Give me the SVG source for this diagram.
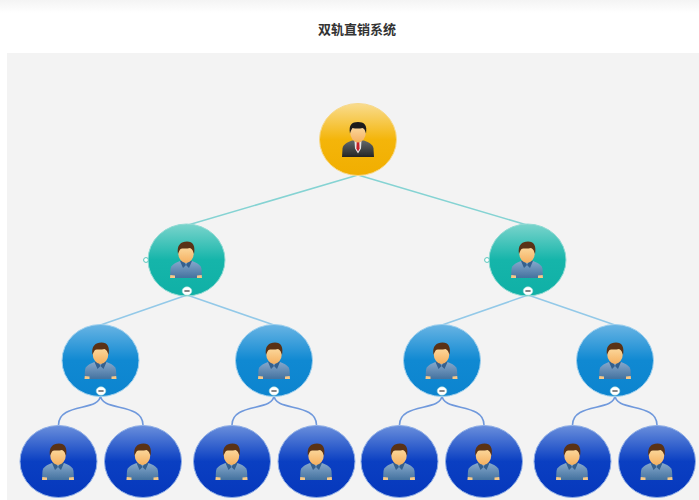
<svg xmlns="http://www.w3.org/2000/svg" width="699" height="500" viewBox="0 0 699 500">
<style>
.title{font-family:"Noto Sans CJK SC","Liberation Sans",sans-serif;font-size:13px;font-weight:700;fill:#333;text-anchor:middle}
.n1{fill:url(#g1);stroke:#f7d98c;stroke-width:1}
.n2{fill:url(#g2);stroke:#8fdad3;stroke-width:1}
.n3{fill:url(#g3);stroke:#9fd0ee;stroke-width:1}
.n4{fill:url(#g4);stroke:#8faee6;stroke-width:1}
.c1{fill:none;stroke:#85d3d3;stroke-width:1.6}
.c2{fill:none;stroke:#93c9e8;stroke-width:1.6}
.c3{fill:none;stroke:#7099dc;stroke-width:1.6}
.t{fill:#fff;stroke:#a8dcdc;stroke-width:.6}
.m{stroke:#444;stroke-width:1.3}
.o{fill:#fff;stroke:#55c5bb;stroke-width:1}
</style>
<defs>
<linearGradient id="strip" x1="0" y1="0" x2="0" y2="1"><stop offset="0" stop-color="#f4f4f4"/><stop offset="1" stop-color="#fff"/></linearGradient>
<linearGradient id="g1" x1="0" y1="0" x2="0" y2="1"><stop offset="0" stop-color="#f9dc8e"/><stop offset=".5" stop-color="#f4b50a"/><stop offset="1" stop-color="#f1ae00"/></linearGradient>
<linearGradient id="g2" x1="0" y1="0" x2="0" y2="1"><stop offset="0" stop-color="#7ad4cc"/><stop offset=".5" stop-color="#15b5aa"/><stop offset="1" stop-color="#10b0a6"/></linearGradient>
<linearGradient id="g3" x1="0" y1="0" x2="0" y2="1"><stop offset="0" stop-color="#68b4e4"/><stop offset=".5" stop-color="#1089d2"/><stop offset="1" stop-color="#0c84cf"/></linearGradient>
<linearGradient id="g4" x1="0" y1="0" x2="0" y2="1"><stop offset="0" stop-color="#6a8fdc"/><stop offset=".5" stop-color="#0a3fc2"/><stop offset="1" stop-color="#0638bc"/></linearGradient>
<linearGradient id="shirt" x1="0" y1="0" x2="0" y2="1"><stop offset="0" stop-color="#86a8cc"/><stop offset="1" stop-color="#44729f"/></linearGradient>
<linearGradient id="face" x1="0" y1="0" x2="0" y2="1"><stop offset="0" stop-color="#fde2ac"/><stop offset="1" stop-color="#f5b060"/></linearGradient>
<linearGradient id="suit" x1="0" y1="0" x2="0" y2="1"><stop offset="0" stop-color="#62676a"/><stop offset="1" stop-color="#262626"/></linearGradient>
<filter id="soft" x="-10%" y="-10%" width="120%" height="120%"><feGaussianBlur stdDeviation=".5"/></filter>
<g id="casual" filter="url(#soft)">
<path d="M-16 18 L-15.500 9 C-15 5 -11 3 -6 1 L6 1 C11 3 15 5 15.500 9 L16 18 Z" fill="url(#shirt)"/>
<path d="M-16 18 L-15.700 15 L-11 15.500 L-11 18 Z M16 18 L15.700 15 L11 15.500 L11 18 Z" fill="#f6c888"/>
<path d="M-6 1 L-3 8 L0 5 L3 8 L6 1 L3 0 L0 5 L-3 0 Z" fill="#35608e"/>
<ellipse cx="0" cy="-7" rx="7.800" ry="10" fill="url(#face)"/>
<path d="M-8 -6 C-9.500 -15 -5 -18.500 1 -18.500 C7 -18.500 9.500 -14 8 -6 C7 -9 6.500 -11 4 -12 C1 -11 -4 -12 -5.500 -11 C-6.500 -10 -7.300 -8 -8 -6 Z" fill="#5a3216"/>
</g>
<g id="suited" filter="url(#soft)">
<path d="M-16 17.500 L-15.500 9 C-15 5 -11 3 -6 1 L6 1 C11 3 15 5 15.500 9 L16 17.500 Z" fill="url(#suit)"/>
<path d="M-3.500 1 L0 3 L3.500 1 L3 9 L0 14 L-3 9 Z" fill="#e8e8e8"/>
<path d="M-1.300 2.500 L1.300 2.500 L1.600 9 L0 12 L-1.600 9 Z" fill="#c8202a"/>
<ellipse cx="0" cy="-7" rx="7.800" ry="10" fill="url(#face)"/>
<path d="M-8 -6 C-9.500 -15 -6 -17.500 0 -17.500 C6 -17.500 9.500 -15 8 -6 C7 -9 6.500 -11 4.500 -11.500 C1 -10.500 -3 -11 -5.500 -11.500 C-6.500 -10 -7.500 -8 -8 -6 Z" fill="#1c1c1c"/>
</g>
<g id="btn"><ellipse rx="4.800" ry="4.200" class="t"/><line x1="-2.600" x2="2.600" class="m"/></g>
</defs>

<rect width="699" height="500" fill="#fff"/>
<rect width="699" height="13" fill="url(#strip)"/>
<rect x="7" y="53" width="692" height="447" fill="#f3f3f3"/>
<text x="357" y="34" class="title">双轨直销系统</text>

<g id="connectors">
<path class="c1" d="M358 175 L188 225 M358 175 L527 225"/>
<path class="c2" d="M187 295 L100.500 325 M187 295 L274 325 M528 295 L442 325 M528 295 L615 325"/>
<path class="c3" d="M100.500 395 C100.500 412 58.500 402 58.500 425 M100.500 395 C100.500 412 143 402 143 425"/>
<path class="c3" d="M274 395 C274 412 232 402 232 425 M274 395 C274 412 316.500 402 316.500 425"/>
<path class="c3" d="M442 395 C442 412 399.500 402 399.500 425 M442 395 C442 412 484 402 484 425"/>
<path class="c3" d="M615 395 C615 412 572.500 402 572.500 425 M615 395 C615 412 657 402 657 425"/>
</g>

<g id="root"><ellipse cx="358" cy="139.500" rx="38.500" ry="36" class="n1"/><use href="#suited" x="358" y="139.500"/></g>

<g id="l2a"><ellipse cx="186.500" cy="260" rx="38.500" ry="36" class="n2"/><use href="#casual" x="186" y="260"/><circle cx="146" cy="260" r="2.400" class="o"/><use href="#btn" x="187" y="291"/></g>
<g id="l2b"><ellipse cx="527.500" cy="260" rx="38.500" ry="36" class="n2"/><use href="#casual" x="527" y="260"/><circle cx="487" cy="260" r="2.400" class="o"/><use href="#btn" x="528" y="291"/></g>

<g id="l3a"><ellipse cx="100.500" cy="360.500" rx="38.500" ry="36" class="n3"/><use href="#casual" x="100.500" y="361"/><use href="#btn" x="101" y="391"/></g>
<g id="l3b"><ellipse cx="274" cy="360.500" rx="38.500" ry="36" class="n3"/><use href="#casual" x="274" y="361"/><use href="#btn" x="274" y="391"/></g>
<g id="l3c"><ellipse cx="442" cy="360.500" rx="38.500" ry="36" class="n3"/><use href="#casual" x="441.500" y="361"/><use href="#btn" x="442" y="391"/></g>
<g id="l3d"><ellipse cx="615" cy="360.500" rx="38.500" ry="36" class="n3"/><use href="#casual" x="615" y="361"/><use href="#btn" x="615" y="391"/></g>

<g id="l4a"><ellipse cx="58.500" cy="461.500" rx="38.500" ry="36" class="n4"/><use href="#casual" x="58" y="462"/></g>
<g id="l4b"><ellipse cx="143" cy="461.500" rx="38.500" ry="36" class="n4"/><use href="#casual" x="142.500" y="462"/></g>
<g id="l4c"><ellipse cx="232" cy="461.500" rx="38.500" ry="36" class="n4"/><use href="#casual" x="231.500" y="462"/></g>
<g id="l4d"><ellipse cx="316.500" cy="461.500" rx="38.500" ry="36" class="n4"/><use href="#casual" x="316" y="462"/></g>
<g id="l4e"><ellipse cx="399.500" cy="461.500" rx="38.500" ry="36" class="n4"/><use href="#casual" x="399" y="462"/></g>
<g id="l4f"><ellipse cx="484" cy="461.500" rx="38.500" ry="36" class="n4"/><use href="#casual" x="483.500" y="462"/></g>
<g id="l4g"><ellipse cx="572.500" cy="461.500" rx="38.500" ry="36" class="n4"/><use href="#casual" x="572" y="462"/></g>
<g id="l4h"><ellipse cx="657" cy="461.500" rx="38.500" ry="36" class="n4"/><use href="#casual" x="656.500" y="462"/></g>
</svg>
